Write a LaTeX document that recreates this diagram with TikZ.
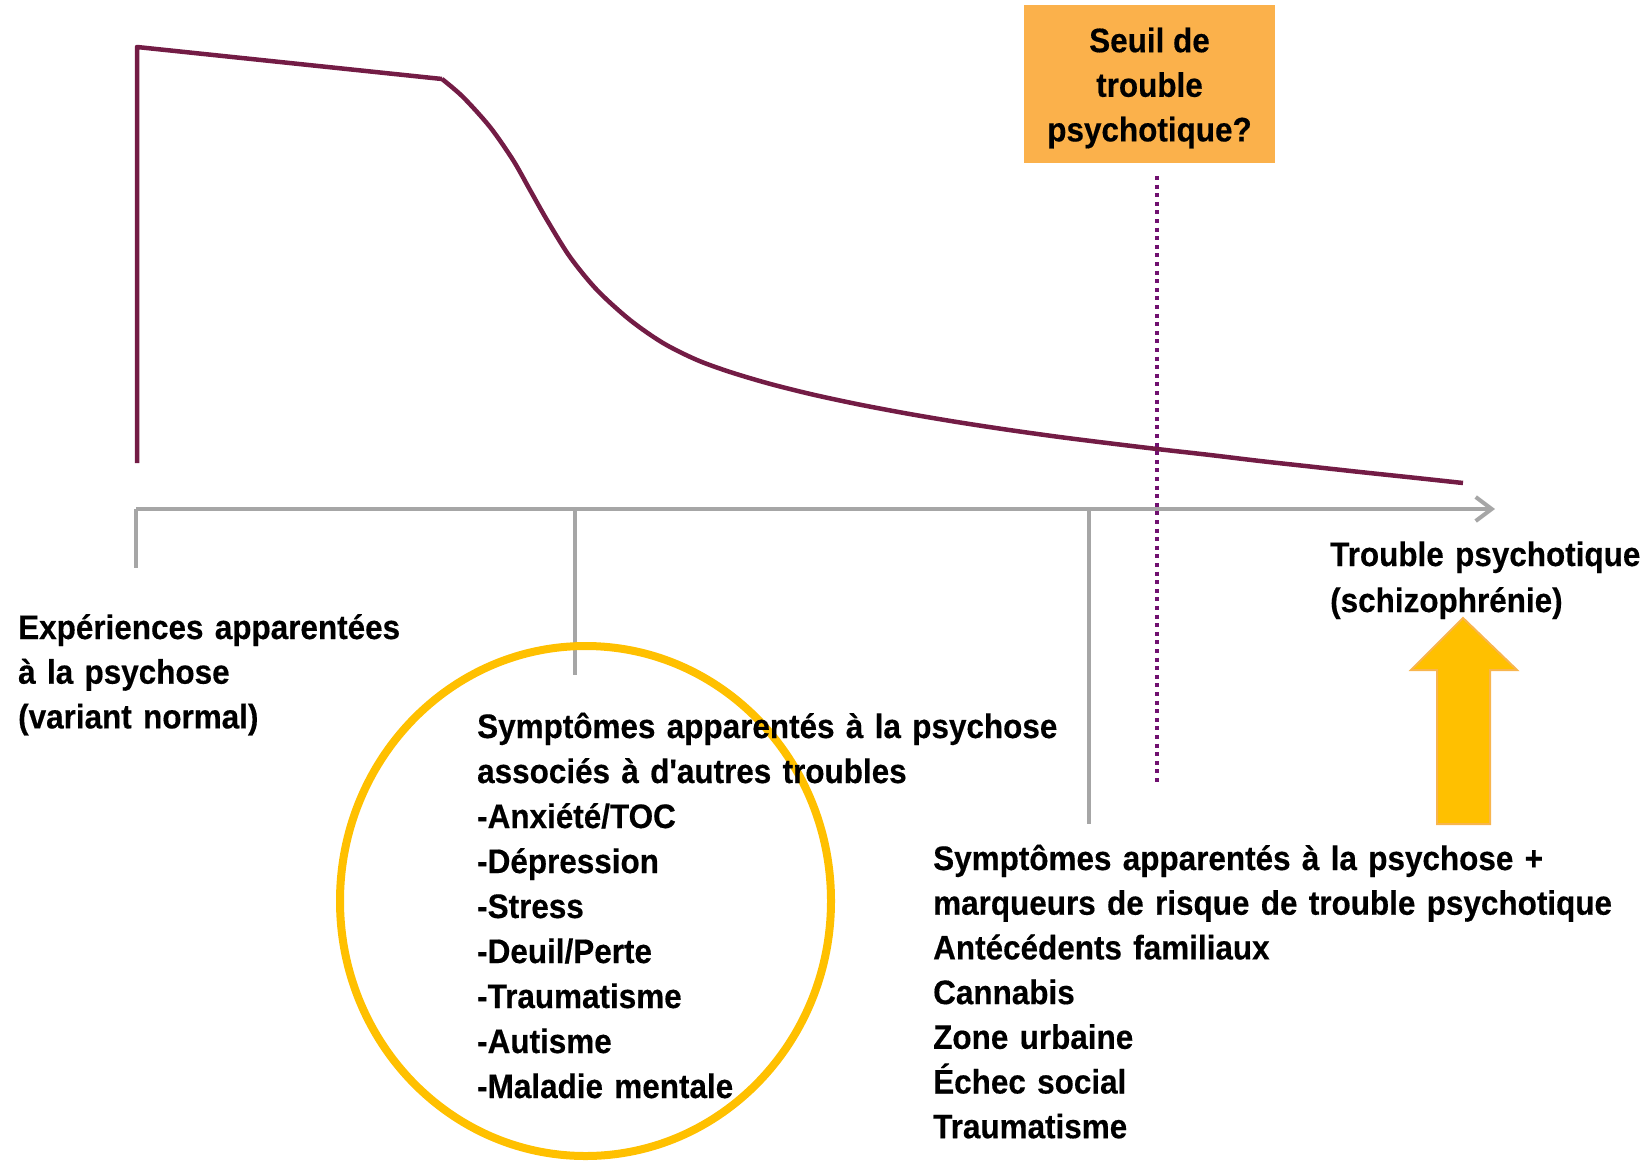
\documentclass[tikz,border=0pt]{standalone}
\usepackage{fontspec}
\setmainfont{Liberation Sans}[Ligatures=TeXOff, FakeStretch=0.925, BoldFeatures={FakeBold=0.4}]
\usetikzlibrary{arrows.meta}
\definecolor{curvecol}{HTML}{731C45}
\definecolor{axiscol}{HTML}{A6A6A6}
\definecolor{threshcol}{HTML}{70106F}
\definecolor{boxcol}{HTML}{FBB14B}
\definecolor{goldcol}{HTML}{FFC000}
\definecolor{goldedge}{HTML}{F8B54E}
\tikzset{
  lbl/.style={anchor=base west, inner sep=0pt, align=left, text width=720pt,
    font=\bfseries\fontsize{34}{44.7}\selectfont},
  axisline/.style={draw=axiscol, line width=4pt},
}
\begin{document}
\begin{tikzpicture}[x=1pt, y=-1pt]
\useasboundingbox (0,0) rectangle (1645,1161);

% severity curve
\draw[curvecol, line width=4.5pt, line join=round]
  (137,463) -- (137,47) -- (442,79)
  plot[smooth, tension=0.5] coordinates {(442,79) (463,97) (490,127) (513,160)
    (530,190) (547,220) (570,257) (597,290) (630,320) (663,343) (697,360)
    (730.7,372.2) (769.4,383.7) (812.1,394.4) (858.2,404.3) (906.8,413.5)
    (956.9,422) (1007.9,429.8) (1058.8,436.9) (1108.8,443.2) (1157,449)
    (1210,455) (1260,461) (1310,466.5) (1360,472) (1412,477.5) (1463,483)};

% horizontal axis and ticks
\coordinate (ax0) at (136,509);
\coordinate (ax1) at (1495,509);
\draw[axisline, -{Straight Barb[length=16pt,width=24pt]}] (ax0) -- (ax1);
\coordinate (t1) at (136,568);
\coordinate (t2a) at (575,509);
\coordinate (t2b) at (575,675);
\coordinate (t3a) at (1089,509);
\coordinate (t3b) at (1089,824);
\draw[axisline] (ax0) -- (t1);
\draw[axisline] (t2a) -- (t2b);
\draw[axisline] (t3a) -- (t3b);

% threshold box and dotted line
\node[fill=boxcol, minimum width=251pt, minimum height=158pt, inner sep=0pt]
  (seuil) at (1149.5,84) {};
\node[align=center, inner sep=0pt, font=\bfseries\fontsize{34}{44.6}\selectfont]
  (seuiltxt) at ([yshift=-4pt]seuil.center) {Seuil de\\trouble\\psychotique?};
\coordinate (d0) at (1157,176);
\coordinate (d1) at (1157,786);
\draw[threshcol, line width=4pt, dash pattern=on 4pt off 4.6pt] (d0) -- (d1);

% circle around associated disorders
\draw[goldcol, line width=8pt] (585.5,901) ellipse [x radius=245.5, y radius=255];

% big upward arrow
\filldraw[fill=goldcol, draw=goldedge, line width=2pt]
  (1437,824) -- (1437,670) -- (1411,670) -- (1463,618) -- (1517,670)
  -- (1490,670) -- (1490,824) -- cycle;

% labels
\node[lbl] (normal) at (18,639) {Expériences apparentées\\à la psychose\\(variant normal)};
\node[lbl, font=\bfseries\fontsize{34}{45}\selectfont] (autres) at (477,738)
  {Symptômes apparentés à la psychose\\associés à d'autres troubles\\-Anxiété/TOC\\-Dépression\\-Stress\\-Deuil/Perte\\-Traumatisme\\-Autisme\\-Maladie mentale};
\node[lbl] (risque) at (933,870)
  {Symptômes apparentés à la psychose +\\marqueurs de risque de trouble psychotique\\Antécédents familiaux\\Cannabis\\Zone urbaine\\Échec social\\Traumatisme};
\node[lbl, font=\bfseries\fontsize{34}{46}\selectfont] (trouble) at (1330,566)
  {Trouble psychotique\\(schizophrénie)};
\end{tikzpicture}
\end{document}
